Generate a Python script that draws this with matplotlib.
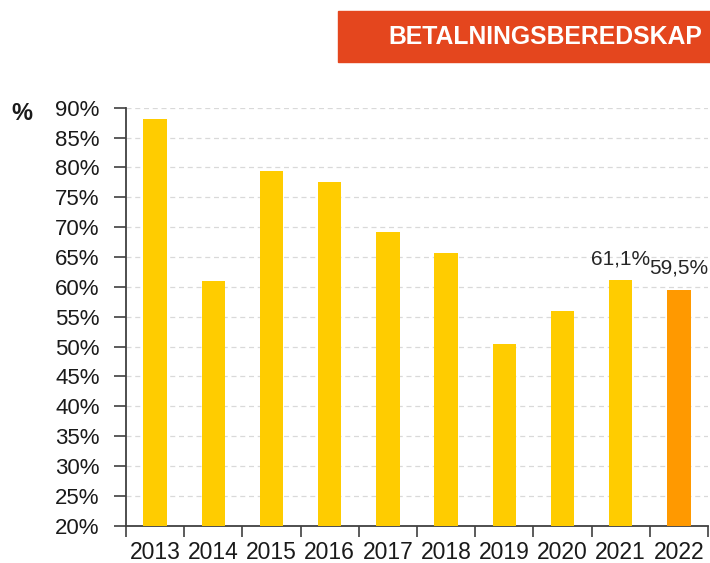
import matplotlib
matplotlib.use("Agg")
import matplotlib.pyplot as plt
import numpy as np

plt.rcParams['font.family'] = ['Liberation Sans', 'DejaVu Sans']

years = ["2013", "2014", "2015", "2016", "2017", "2018", "2019", "2020", "2021", "2022"]
values = [88.1, 61.0, 79.4, 77.5, 69.2, 65.7, 50.5, 56.0, 61.1, 59.5]
labelled = ["2021", "2022"]
colors = ["#FFCC00"] * 9 + ["#FF9900"]
yticks = list(range(20, 91, 5))
title = "BETALNINGSBEREDSKAP"
y_unit = "%"

fig = plt.figure(figsize=(7.10, 5.63), dpi=100)
ax = fig.add_axes([126/710, 1 - 525.7/563, (708 - 126)/710, (525.7 - 107.7)/563])

x = np.arange(len(years))
base = 20
ax.bar(x, [v - base for v in values], bottom=base, width=0.40, color=colors, zorder=3)

ax.set_ylim(20, 90)
ax.set_xlim(-0.5, len(years) - 0.5)
ax.set_yticks(yticks)
ax.set_yticklabels([f"{t}%" for t in yticks], fontsize=16, color="#1a1a1a")
ax.set_xticks(x)
ax.set_xticklabels(years, fontsize=16.5, color="#1a1a1a")
ax.set_xticks(np.arange(-0.5, len(years)), minor=True)
ax.tick_params(axis='x', which='major', length=0, pad=11)
ax.tick_params(axis='x', which='minor', length=8, width=1.2, color="#404040", direction='out')
ax.tick_params(axis='y', which='major', length=9, width=1.2, color="#404040", direction='out', pad=10)

ax.grid(axis='y', color="#d9d9d9", linestyle=(0, (4, 3)), linewidth=0.9, zorder=0)
for s in ['top', 'right']:
    ax.spines[s].set_visible(False)
for s in ['left', 'bottom']:
    ax.spines[s].set_color("#404040")
    ax.spines[s].set_linewidth(1.3)

for i, (yr, v) in enumerate(zip(years, values)):
    if yr in labelled:
        ax.text(i, v + 2.0, f"{v:.1f}%".replace(".", ","), ha='center', va='bottom',
                fontsize=15, color="#262626", zorder=4)

# title box
fig.patches.append(plt.Rectangle((338/710, 1 - 62/563), (710 - 338)/710, 51/563,
                                 transform=fig.transFigure, color="#E4461E", zorder=1))
fig.text(702/710, 1 - 36.5/563, title, ha='right', va='center', fontsize=17.8,
         fontweight='bold', color='white')

fig.text(22/710, 1 - 113/563, y_unit, ha='center', va='center', fontsize=17,
         fontweight='bold', color="#1a1a1a")

fig.savefig("out.png", dpi=100)
